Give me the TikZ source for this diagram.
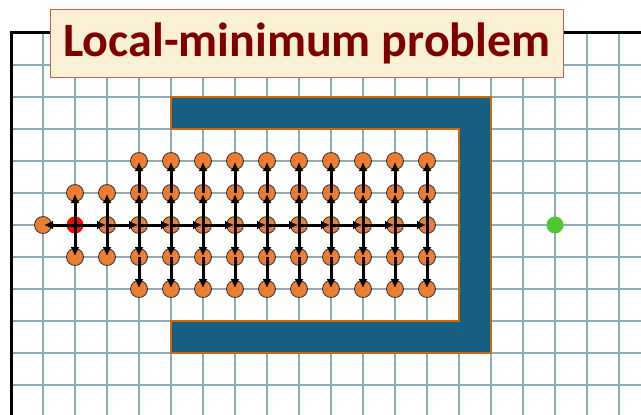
\documentclass[tikz,border=0pt]{standalone}
\usepackage{fontspec}
\setmainfont{Carlito}
\usetikzlibrary{
  arrows.meta,
  positioning
}
\definecolor{gridcolor}{RGB}{143, 172, 182}
\definecolor{wallcolor}{RGB}{23, 94, 128}
\definecolor{wallborder}{RGB}{200, 106, 16}
\definecolor{visitcolor}{RGB}{237, 125, 49}
\definecolor{startcolor}{RGB}{255, 0, 0}
\definecolor{goalcolor}{RGB}{77, 200, 46}
\definecolor{titlecolor}{RGB}{128, 0, 0}
\definecolor{titlefill}{RGB}{250, 240, 212}
\definecolor{titleborder}{RGB}{192, 96, 80}
\tikzset{
gridline/.style={
  draw=gridcolor,
  line width=1.6pt
},
frameline/.style={
  draw=black,
  line width=3pt
},
wall/.style={
  fill=wallcolor,
  draw=wallborder,
  line width=2.2pt
},
visited/.style={
  circle,
  draw=black!80,
  line width=0.8pt,
  fill=visitcolor,
  minimum size=17pt,
  inner sep=0pt
},
startnode/.style={
  circle,
  fill=startcolor,
  minimum size=17pt,
  inner sep=0pt
},
goalnode/.style={
  circle,
  fill=goalcolor,
  minimum size=17pt,
  inner sep=0pt
},
titlebox/.style={
  draw=titleborder,
  fill=titlefill,
  line width=0.8pt,
  font=\bfseries\fontsize{48}{54}\selectfont,
  text=titlecolor,
  minimum width=513pt,
  minimum height=68pt
},
arrow/.style={
  -{Latex[length=9pt,width=9pt]},
  line width=3pt,
  draw=black,
  shorten >=1pt
}
}

\begin{document}
\begin{tikzpicture}[x=1pt,y=-1pt]
        \useasboundingbox (0,0) rectangle (641,415);
        % grid
        \foreach \gx in {43,75,...,619}
          \draw[gridline] (\gx,33) -- (\gx,415);
        \foreach \gy in {65,97,...,385}
          \draw[gridline] (11,\gy) -- (641,\gy);
        \draw[frameline] (11,415) -- (11,32) -- (641,32);
        % obstacle
        \draw[wall] (171,97) -- (491,97) -- (491,353) -- (171,353) -- (171,321)
          -- (459,321) -- (459,129) -- (171,129) -- cycle;
        % expanded nodes
        \node[visited] (v-1-6) at (43,225) {};
        \node[startnode] (v-2-6) at (75,225) {};
        \node[visited] (v-2-5) at (75,193) {};
        \node[visited] (v-2-7) at (75,257) {};
        \foreach \r in {5,6,7}
          \node[visited] (v-3-\r) at (107,{33+32*\r}) {};
        \foreach \c in {4,...,13}
          \foreach \r in {4,...,8}
            \node[visited] (v-\c-\r) at ({11+32*\c},{33+32*\r}) {};
        \node[goalnode] (goal) at (555,225) {};
        % expansions
        \draw[arrow] (v-2-6.center) -- (v-1-6.center);
        \draw[arrow] (v-2-6.center) -- (v-2-5.center);
        \draw[arrow] (v-2-6.center) -- (v-2-7.center);
        \foreach \c [evaluate=\c as \p using int(\c-1)] in {3,...,13}
          \draw[arrow] (v-\p-6.center) -- (v-\c-6.center);
        \draw[arrow] (v-3-6.center) -- (v-3-5.center);
        \draw[arrow] (v-3-6.center) -- (v-3-7.center);
        \foreach \c in {4,...,13} {
          \draw[arrow] (v-\c-6.center) -- (v-\c-5.center);
          \draw[arrow] (v-\c-5.center) -- (v-\c-4.center);
          \draw[arrow] (v-\c-6.center) -- (v-\c-7.center);
          \draw[arrow] (v-\c-7.center) -- (v-\c-8.center);
        }
        % title
        \node[titlebox] (title) at (307,43) {Local-minimum problem};
      \end{tikzpicture}
\end{document}
